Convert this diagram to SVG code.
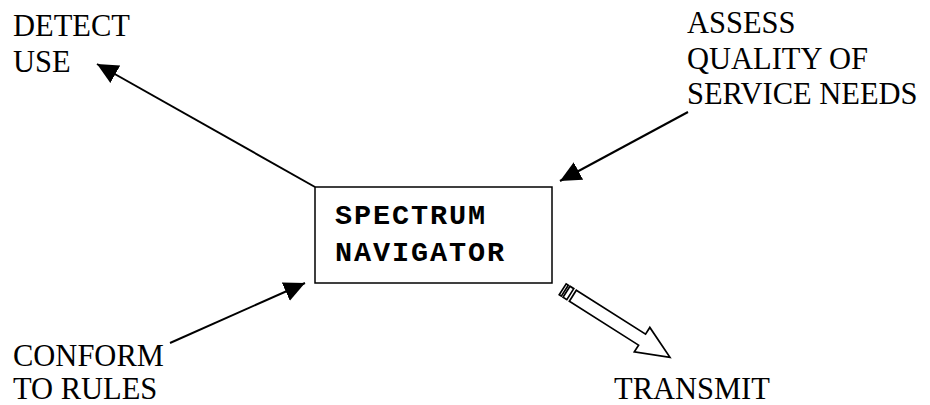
<svg xmlns="http://www.w3.org/2000/svg" width="930" height="405" viewBox="0 0 930 405">
<defs>
<style>
.lbl{font-family:"Liberation Serif","Times New Roman",serif;font-size:30.5px;fill:#000}
.box{fill:#fff;stroke:#000;stroke-width:1.5}
.mono{font-family:"Liberation Mono","Courier New",monospace;font-size:28.5px;font-weight:bold;letter-spacing:1.9px;fill:#000}
.ln{stroke:#000;stroke-width:2;fill:none}
.blk{fill:#fff;stroke:#000;stroke-width:1.7;stroke-linejoin:miter}
</style>
<marker id="ah" markerUnits="userSpaceOnUse" markerWidth="24" markerHeight="22" refX="21" refY="10" orient="auto" viewBox="0 0 24 22">
<path d="M0,0 L21,10 L0,20 z" fill="#000"/>
</marker>
</defs>
<g id="connectors">
<line class="ln" x1="315" y1="187" x2="97" y2="64" marker-end="url(#ah)"/>
<line class="ln" x1="688" y1="112" x2="560" y2="181" marker-end="url(#ah)"/>
<line class="ln" x1="170" y1="343" x2="305" y2="283" marker-end="url(#ah)"/>
<g id="transmit-arrow" transform="translate(562.7,289.3) rotate(32.4)">
<rect class="blk" x="0" y="-6.5" width="2.5" height="13"/>
<rect class="blk" x="4.5" y="-6.5" width="4.5" height="13"/>
<path class="blk" d="M12,-6.5 L94,-6.5 L94,-14.5 L127,0 L94,14.5 L94,6.5 L12,6.5 z"/>
</g>
</g>
<g id="spectrum-navigator">
<rect class="box" x="315" y="187" width="237" height="96"/>
<text class="mono" x="335" y="224">SPECTRUM</text>
<text class="mono" x="335" y="261">NAVIGATOR</text>
</g>
<g id="detect-use">
<text class="lbl" x="13" y="36">DETECT</text>
<text class="lbl" x="13" y="71.5">USE</text>
</g>
<g id="assess">
<text class="lbl" x="687" y="33">ASSESS</text>
<text class="lbl" x="687" y="69">QUALITY OF</text>
<text class="lbl" x="687" y="104">SERVICE NEEDS</text>
</g>
<g id="conform">
<text class="lbl" x="13" y="366">CONFORM</text>
<text class="lbl" x="13" y="399">TO RULES</text>
</g>
<g id="transmit">
<text class="lbl" x="614" y="399">TRANSMIT</text>
</g>
</svg>
